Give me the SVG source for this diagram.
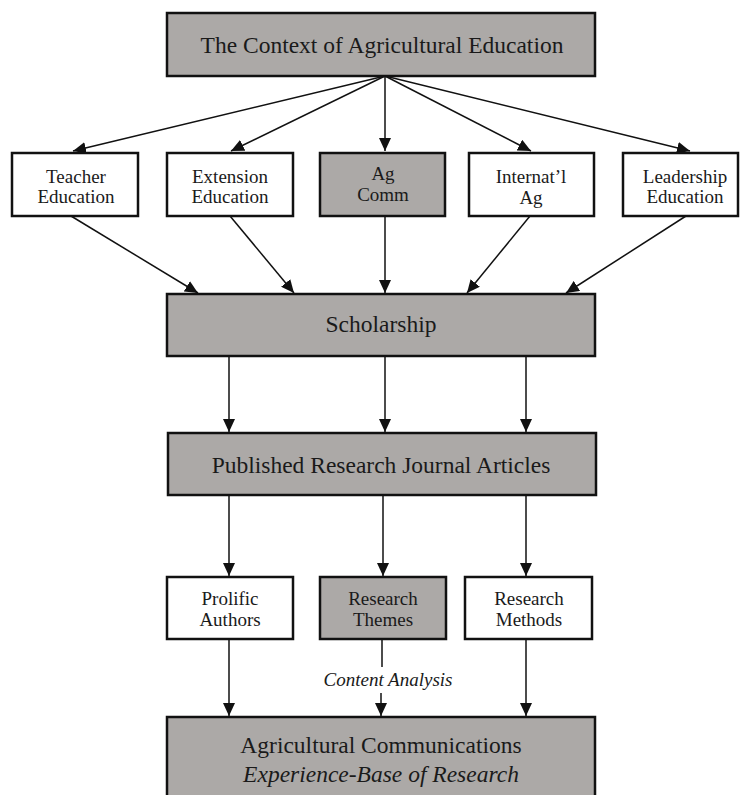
<svg xmlns="http://www.w3.org/2000/svg" width="740" height="795" viewBox="0 0 740 795">
<style>
.g{fill:#aca9a7;stroke:#111;stroke-width:2.5}
.w{fill:#fff;stroke:#111;stroke-width:2.5}
text{font-family:'Liberation Serif','Times New Roman',Times,serif;fill:#1a1a1a;text-anchor:middle}
.big{font-size:23.5px}
.sm{font-size:19px}
.it{font-style:italic}
.c{fill:none;stroke:#111;stroke-width:1.5;marker-end:url(#ah)}
.p{fill:none;stroke:#111;stroke-width:1.5}
</style>
<defs>
<marker id="ah" markerUnits="userSpaceOnUse" markerWidth="14" markerHeight="12" refX="13" refY="6" orient="auto">
<path d="M0,0 L13,6 L0,12 z" fill="#111"/>
</marker>
<clipPath id="clipInt"><rect x="469" y="152" width="125" height="56"/></clipPath>
</defs>
<rect width="740" height="795" fill="#fff"/>
<g id="connectors">
<line class="c" x1="385" y1="76" x2="73" y2="151"/>
<line class="c" x1="385" y1="76" x2="231" y2="151"/>
<line class="c" x1="385" y1="76" x2="385" y2="151"/>
<line class="c" x1="385" y1="76" x2="531" y2="151"/>
<line class="c" x1="385" y1="76" x2="690" y2="151"/>
<line class="c" x1="71" y1="216" x2="198" y2="293"/>
<line class="c" x1="230" y1="216" x2="294" y2="293"/>
<line class="c" x1="385" y1="216" x2="385" y2="293"/>
<line class="c" x1="530" y1="216" x2="467" y2="293"/>
<line class="c" x1="686" y1="216" x2="566" y2="293"/>
<line class="c" x1="229" y1="356" x2="229" y2="432"/>
<line class="c" x1="385" y1="356" x2="385" y2="432"/>
<line class="c" x1="526" y1="356" x2="526" y2="432"/>
<line class="c" x1="229" y1="495" x2="229" y2="576"/>
<line class="c" x1="383" y1="495" x2="383" y2="576"/>
<line class="c" x1="526" y1="495" x2="526" y2="576"/>
<line class="c" x1="229" y1="639" x2="229" y2="716"/>
<line class="p" x1="382" y1="639" x2="382" y2="667"/>
<line class="c" x1="381" y1="693" x2="381" y2="716"/>
<line class="c" x1="526" y1="639" x2="526" y2="716"/>
<text class="it" x="388" y="686" font-size="19">Content Analysis</text>
</g>
<g id="context">
<rect class="g" x="167" y="13" width="428" height="63"/>
<text class="big" x="382" y="53">The Context of Agricultural Education</text>
</g>
<g id="teacher">
<rect class="w" x="12" y="153" width="126" height="63"/>
<text class="sm" x="76" y="183">Teacher</text>
<text class="sm" x="76" y="203">Education</text>
</g>
<g id="extension">
<rect class="w" x="167" y="153" width="126" height="63"/>
<text class="sm" x="230" y="183">Extension</text>
<text class="sm" x="230" y="203">Education</text>
</g>
<g id="agcomm">
<rect class="g" x="320" y="153" width="125" height="63"/>
<text class="sm" x="383" y="180">Ag</text>
<text class="sm" x="383" y="201">Comm</text>
</g>
<g id="internatl">
<rect class="w" x="469" y="153" width="125" height="63"/>
<g clip-path="url(#clipInt)">
<text class="sm" x="531" y="183">Internat’l</text>
<text class="sm" x="531" y="204">Ag</text>
</g>
</g>
<g id="leadership">
<rect class="w" x="623" y="153" width="115" height="63"/>
<text class="sm" x="685" y="183">Leadership</text>
<text class="sm" x="685" y="203">Education</text>
</g>
<g id="scholarship">
<rect class="g" x="167" y="294" width="428" height="62"/>
<text class="big" x="381" y="332">Scholarship</text>
</g>
<g id="published">
<rect class="g" x="168" y="433" width="428" height="62"/>
<text class="big" x="381" y="473">Published Research Journal Articles</text>
</g>
<g id="prolific">
<rect class="w" x="167" y="577" width="126" height="62"/>
<text class="sm" x="230" y="605">Prolific</text>
<text class="sm" x="230" y="626">Authors</text>
</g>
<g id="themes">
<rect class="g" x="320" y="577" width="126" height="62"/>
<text class="sm" x="383" y="605">Research</text>
<text class="sm" x="383" y="626">Themes</text>
</g>
<g id="methods">
<rect class="w" x="465" y="577" width="127" height="62"/>
<text class="sm" x="529" y="605">Research</text>
<text class="sm" x="529" y="626">Methods</text>
</g>
<g id="agcomm-base">
<rect class="g" x="167" y="717" width="428" height="82"/>
<text class="big" x="381" y="753">Agricultural Communications</text>
<text class="big it" x="381" y="782">Experience-Base of Research</text>
</g>
</svg>
